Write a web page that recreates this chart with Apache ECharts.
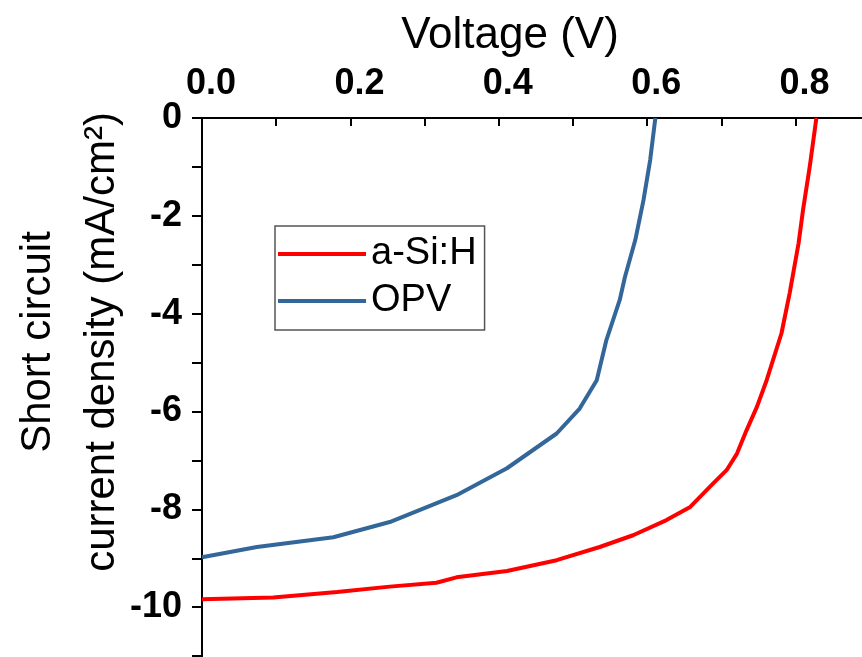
<!DOCTYPE html>
<html>
<head>
<meta charset="utf-8">
<script src="https://cdn.jsdelivr.net/npm/echarts@6/dist/echarts.min.js"></script>
<style>
html, body { margin: 0; padding: 0; background: #fff; }
#jv { width: 862px; height: 657px; }
</style>
</head>
<body>
<div id="jv"></div>
<script>
// J-V curves
var voltASi = [0, 0.096, 0.182, 0.253, 0.316, 0.343, 0.411, 0.478, 0.536, 0.581, 0.626, 0.658, 0.689, 0.707, 0.721, 0.734, 0.748, 0.761, 0.781, 0.792, 0.804, 0.810, 0.819, 0.828];
var jASi = [-9.84, -9.80, -9.69, -9.58, -9.50, -9.39, -9.26, -9.04, -8.77, -8.53, -8.22, -7.95, -7.47, -7.20, -6.86, -6.38, -5.90, -5.36, -4.40, -3.58, -2.56, -1.88, -1.00, 0];
var voltOPV = [0, 0.074, 0.177, 0.253, 0.343, 0.411, 0.478, 0.509, 0.532, 0.545, 0.563, 0.570, 0.584, 0.595, 0.604, 0.611];
var jOPV = [-8.98, -8.77, -8.57, -8.26, -7.71, -7.16, -6.45, -5.94, -5.36, -4.54, -3.72, -3.25, -2.49, -1.68, -0.86, 0];
var seriesNames = ['a-Si:H', 'OPV'];
var yTitle = 'Short circuit\ncurrent density (mA/cm²)';

function pairs(xs, ys) {
    return xs.map(function (x, i) { return [x, ys[i]]; });
}

var font = 'Liberation Sans, Arial, sans-serif';
var chart = echarts.init(document.getElementById('jv'));

var option = {
    animation: false,
    grid: {
        left: 202,
        top: 118,
        right: -82,
        bottom: -48,
        outerBoundsMode: 'none',
        containLabel: false
    },
    // y axis title, two lines, placed by hand (axis name gets pushed around)
    graphic: [{
        type: 'text',
        x: 70,
        y: 342,
        rotation: Math.PI / 2,
        style: {
            text: yTitle,
            font: '42px ' + font,
            lineHeight: 64,
            fill: '#000',
            align: 'center',
            verticalAlign: 'middle'
        }
    }],
    legend: {
        orient: 'vertical',
        left: 275,
        top: 226,
        data: seriesNames,
        icon: 'rect',
        itemWidth: 88,
        itemHeight: 4,
        itemGap: 9,
        padding: [9, 8, 10, 3],
        borderColor: '#555',
        borderWidth: 1.5,
        textStyle: {
            fontFamily: font,
            fontSize: 38,
            lineHeight: 36,
            color: '#000'
        }
    },
    xAxis: {
        type: 'value',
        position: 'top',
        min: 0,
        max: 1.0,
        interval: 0.2,
        name: 'Voltage (V)',
        nameLocation: 'middle',
        nameGap: 60,
        nameTextStyle: {
            fontFamily: font,
            fontSize: 44,
            color: '#000',
            padding: [0, 126, 0, 0]
        },
        axisLine: { lineStyle: { color: '#000', width: 2 } },
        axisTick: { inside: true, length: 8, lineStyle: { color: '#000', width: 2 } },
        minorTick: { show: true, splitNumber: 2, length: 8, lineStyle: { color: '#000', width: 2 } },
        splitLine: { show: false },
        axisLabel: {
            margin: 16,
            fontFamily: font,
            fontSize: 36,
            fontWeight: 'bold',
            color: '#000',
            padding: [0, 0, 0, 18],
            formatter: function (v) { return v.toFixed(1); }
        }
    },
    yAxis: {
        type: 'value',
        min: -12,
        max: 0,
        interval: 2,
        axisLine: { lineStyle: { color: '#000', width: 2 } },
        axisTick: { length: 10, lineStyle: { color: '#000', width: 2 } },
        minorTick: { show: true, splitNumber: 2, length: 10, lineStyle: { color: '#000', width: 2 } },
        splitLine: { show: false },
        axisLabel: {
            margin: 20,
            fontFamily: font,
            fontSize: 36,
            fontWeight: 'bold',
            color: '#000'
        }
    },
    series: [
        {
            name: seriesNames[0],
            type: 'line',
            showSymbol: false,
            color: '#ff0000',
            lineStyle: { width: 4 },
            data: pairs(voltASi, jASi)
        },
        {
            name: seriesNames[1],
            type: 'line',
            showSymbol: false,
            color: '#336699',
            lineStyle: { width: 4 },
            data: pairs(voltOPV, jOPV)
        }
    ]
};

chart.setOption(option);
</script>
</body>
</html>
